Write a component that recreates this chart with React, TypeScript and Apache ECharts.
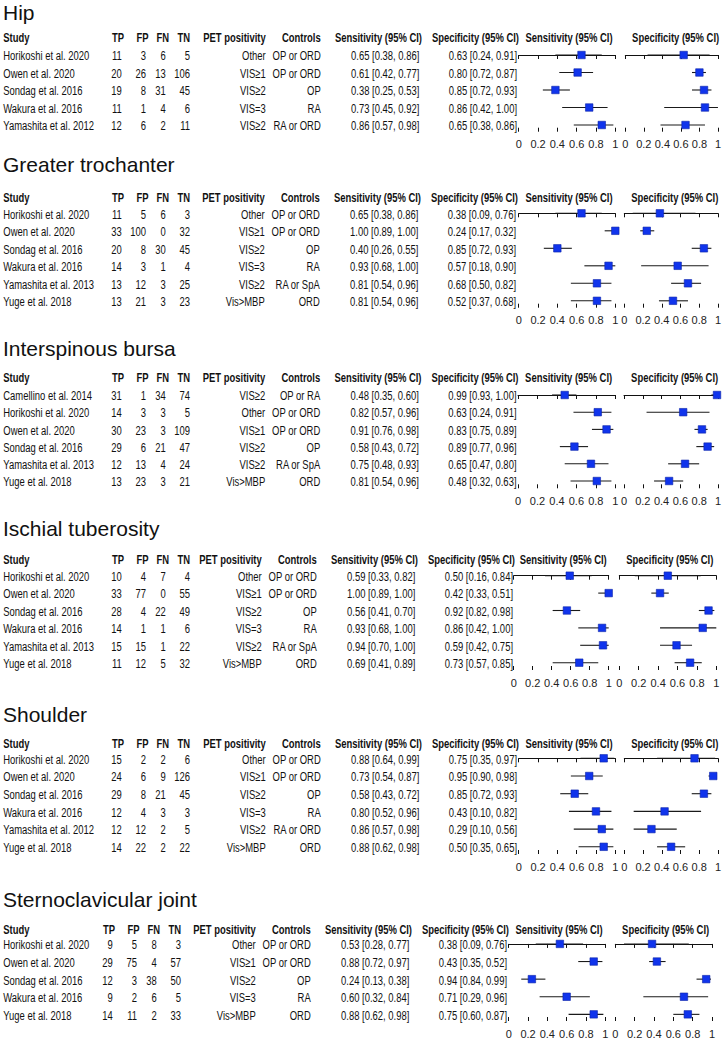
import React, { useEffect, useRef } from "react";
import * as echarts from "echarts";

// ---------------- DATA ----------------
const sectionTitles = ["Hip", "Greater trochanter", "Interspinous bursa", "Ischial tuberosity", "Shoulder", "Sternoclavicular joint"];
const headerLabels = ["Study", "TP", "FP", "FN", "TN", "PET positivity", "Controls", "Sensitivity (95% CI)", "Specificity (95% CI)"];
const plotHeaders = ["Sensitivity (95% CI)", "Specificity (95% CI)"];

// Hip
const hipStudies = ["Horikoshi et al. 2020", "Owen et al. 2020", "Sondag et al. 2016", "Wakura et al. 2016", "Yamashita et al. 2012"];
const hipCounts = [[11, 3, 6, 5], [20, 26, 13, 106], [19, 8, 31, 45], [11, 1, 4, 6], [12, 6, 2, 11]];
const hipPET = ["Other", "VIS≥1", "VIS≥2", "VIS=3", "VIS≥2"];
const hipControls = ["OP or ORD", "OP or ORD", "OP", "RA", "RA or ORD"];
const hipSens = [[0.65, 0.38, 0.86], [0.61, 0.42, 0.77], [0.38, 0.25, 0.53], [0.73, 0.45, 0.92], [0.86, 0.57, 0.98]];
const hipSpec = [[0.63, 0.24, 0.91], [0.80, 0.72, 0.87], [0.85, 0.72, 0.93], [0.86, 0.42, 1.00], [0.65, 0.38, 0.86]];

// Greater trochanter
const gtStudies = ["Horikoshi et al. 2020", "Owen et al. 2020", "Sondag et al. 2016", "Wakura et al. 2016", "Yamashita et al. 2013", "Yuge et al. 2018"];
const gtCounts = [[11, 5, 6, 3], [33, 100, 0, 32], [20, 8, 30, 45], [14, 3, 1, 4], [13, 12, 3, 25], [13, 21, 3, 23]];
const gtPET = ["Other", "VIS≥1", "VIS≥2", "VIS=3", "VIS≥2", "Vis>MBP"];
const gtControls = ["OP or ORD", "OP or ORD", "OP", "RA", "RA or SpA", "ORD"];
const gtSens = [[0.65, 0.38, 0.86], [1.00, 0.89, 1.00], [0.40, 0.26, 0.55], [0.93, 0.68, 1.00], [0.81, 0.54, 0.96], [0.81, 0.54, 0.96]];
const gtSpec = [[0.38, 0.09, 0.76], [0.24, 0.17, 0.32], [0.85, 0.72, 0.93], [0.57, 0.18, 0.90], [0.68, 0.50, 0.82], [0.52, 0.37, 0.68]];

// Interspinous bursa
const ibStudies = ["Camellino et al. 2014", "Horikoshi et al. 2020", "Owen et al. 2020", "Sondag et al. 2016", "Yamashita et al. 2013", "Yuge et al. 2018"];
const ibCounts = [[31, 1, 34, 74], [14, 3, 3, 5], [30, 23, 3, 109], [29, 6, 21, 47], [12, 13, 4, 24], [13, 23, 3, 21]];
const ibPET = ["VIS≥2", "Other", "VIS≥1", "VIS≥2", "VIS≥2", "Vis>MBP"];
const ibControls = ["OP or RA", "OP or ORD", "OP or ORD", "OP", "RA or SpA", "ORD"];
const ibSens = [[0.48, 0.35, 0.60], [0.82, 0.57, 0.96], [0.91, 0.76, 0.98], [0.58, 0.43, 0.72], [0.75, 0.48, 0.93], [0.81, 0.54, 0.96]];
const ibSpec = [[0.99, 0.93, 1.00], [0.63, 0.24, 0.91], [0.83, 0.75, 0.89], [0.89, 0.77, 0.96], [0.65, 0.47, 0.80], [0.48, 0.32, 0.63]];

// Ischial tuberosity
const itStudies = ["Horikoshi et al. 2020", "Owen et al. 2020", "Sondag et al. 2016", "Wakura et al. 2016", "Yamashita et al. 2013", "Yuge et al. 2018"];
const itCounts = [[10, 4, 7, 4], [33, 77, 0, 55], [28, 4, 22, 49], [14, 1, 1, 6], [15, 15, 1, 22], [11, 12, 5, 32]];
const itPET = ["Other", "VIS≥1", "VIS≥2", "VIS=3", "VIS≥2", "Vis>MBP"];
const itControls = ["OP or ORD", "OP or ORD", "OP", "RA", "RA or SpA", "ORD"];
const itSens = [[0.59, 0.33, 0.82], [1.00, 0.89, 1.00], [0.56, 0.41, 0.70], [0.93, 0.68, 1.00], [0.94, 0.70, 1.00], [0.69, 0.41, 0.89]];
const itSpec = [[0.50, 0.16, 0.84], [0.42, 0.33, 0.51], [0.92, 0.82, 0.98], [0.86, 0.42, 1.00], [0.59, 0.42, 0.75], [0.73, 0.57, 0.85]];

// Shoulder
const shStudies = ["Horikoshi et al. 2020", "Owen et al. 2020", "Sondag et al. 2016", "Wakura et al. 2016", "Yamashita et al. 2012", "Yuge et al. 2018"];
const shCounts = [[15, 2, 2, 6], [24, 6, 9, 126], [29, 8, 21, 45], [12, 4, 3, 3], [12, 12, 2, 5], [14, 22, 2, 22]];
const shPET = ["Other", "VIS≥1", "VIS≥2", "VIS=3", "VIS≥2", "Vis>MBP"];
const shControls = ["OP or ORD", "OP or ORD", "OP", "RA", "RA or ORD", "ORD"];
const shSens = [[0.88, 0.64, 0.99], [0.73, 0.54, 0.87], [0.58, 0.43, 0.72], [0.80, 0.52, 0.96], [0.86, 0.57, 0.98], [0.88, 0.62, 0.98]];
const shSpec = [[0.75, 0.35, 0.97], [0.95, 0.90, 0.98], [0.85, 0.72, 0.93], [0.43, 0.10, 0.82], [0.29, 0.10, 0.56], [0.50, 0.35, 0.65]];

// Sternoclavicular joint
const scStudies = ["Horikoshi et al. 2020", "Owen et al. 2020", "Sondag et al. 2016", "Wakura et al. 2016", "Yuge et al. 2018"];
const scCounts = [[9, 5, 8, 3], [29, 75, 4, 57], [12, 3, 38, 50], [9, 2, 6, 5], [14, 11, 2, 33]];
const scPET = ["Other", "VIS≥1", "VIS≥2", "VIS=3", "Vis>MBP"];
const scControls = ["OP or ORD", "OP or ORD", "OP", "RA", "ORD"];
const scSens = [[0.53, 0.28, 0.77], [0.88, 0.72, 0.97], [0.24, 0.13, 0.38], [0.60, 0.32, 0.84], [0.88, 0.62, 0.98]];
const scSpec = [[0.38, 0.09, 0.76], [0.43, 0.35, 0.52], [0.94, 0.84, 0.99], [0.71, 0.29, 0.96], [0.75, 0.60, 0.87]];

const sections = [
  { studies: hipStudies, counts: hipCounts, pet: hipPET, controls: hipControls, sens: hipSens, spec: hipSpec },
  { studies: gtStudies, counts: gtCounts, pet: gtPET, controls: gtControls, sens: gtSens, spec: gtSpec },
  { studies: ibStudies, counts: ibCounts, pet: ibPET, controls: ibControls, sens: ibSens, spec: ibSpec },
  { studies: itStudies, counts: itCounts, pet: itPET, controls: itControls, sens: itSens, spec: itSpec },
  { studies: shStudies, counts: shCounts, pet: shPET, controls: shControls, sens: shSens, spec: shSpec },
  { studies: scStudies, counts: scCounts, pet: scPET, controls: scControls, sens: scSens, spec: scSpec },
];

// ---------------- LAYOUT ----------------
const LAYOUT = [
  { title: 19.5, header: 37, row0: 55, step: 17.5, axis: 131.7, dxA: 0, dxB: 0, sens: [518.7, 615.3], spec: [625.3, 722] },
  { title: 172, header: 196.7, row0: 213.3, step: 17.5, axis: 307.7, dxA: 0, dxB: -1, sens: [518.7, 615.3], spec: [624.3, 721.3] },
  { title: 356, header: 376.7, row0: 395, step: 17.2, axis: 488.3, dxA: 0, dxB: -0.5, sens: [518, 615.3], spec: [624, 721.3] },
  { title: 536, header: 558.3, row0: 575.7, step: 17.4, axis: 670, dxA: 0, dxB: -4, sens: [513.7, 608.7], spec: [619.3, 716.3] },
  { title: 722, header: 742.3, row0: 758.3, step: 17.7, axis: 854, dxA: 0, dxB: 0, sens: [518.7, 615.3], spec: [624.3, 721.3] },
  { title: 906.7, header: 928.3, row0: 944, step: 17.75, axis: 1021.7, dxA: -9, dxB: -10, sens: [508.7, 605.3], spec: [615.3, 712] },
];
const COL = { study: 3.3, tp: 121.7, fp: 146, fn: 165.7, tn: 190, pet: 265.7, ctrl: 320.7, sens: 419.3, spec: 517 };
const HCOL = { tp: 124, fp: 148.5, fn: 169, tn: 190, pet: 265.7, ctrl: 320.7, sens: 422, spec: 519 };

const FONT = "'Liberation Sans', Arial, Helvetica, sans-serif";
const TXT = "#111";
const BLUE = "#1034ec";

function txt(s: string, x: number, y: number, align: string, bold = false, size = 13.5, sx = 0.7) {
  return {
    type: "text",
    x,
    y,
    scaleX: sx,
    silent: true,
    style: {
      text: s,
      fontSize: size,
      fontFamily: FONT,
      fontWeight: bold ? "bold" : "normal",
      fill: TXT,
      align,
      textAlign: align,
      verticalAlign: "middle",
      textVerticalAlign: "middle",
    },
  };
}

const fmt = (d: number[]) => `${d[0].toFixed(2)} [${d[1].toFixed(2)}, ${d[2].toFixed(2)}]`;

function buildOption() {
  const grid: any[] = [];
  const xAxis: any[] = [];
  const yAxis: any[] = [];
  const series: any[] = [];
  const graphic: any[] = [];

  sections.forEach((sec, si) => {
    const L = LAYOUT[si];
    // title (baseline at L.title)
    graphic.push({
      type: "text", x: 3, y: L.title - 7.4, silent: true,
      style: {
        text: sectionTitles[si], fontSize: 21, lineHeight: 15, fontFamily: FONT, fill: TXT,
        align: "left", textAlign: "left", verticalAlign: "middle", textVerticalAlign: "middle",
      },
    });
    // headers
    const h = L.header;
    graphic.push(txt(headerLabels[0], COL.study, h, "left", true));
    graphic.push(txt(headerLabels[1], HCOL.tp + L.dxA, h, "right", true));
    graphic.push(txt(headerLabels[2], HCOL.fp + L.dxA, h, "right", true));
    graphic.push(txt(headerLabels[3], HCOL.fn + L.dxA, h, "right", true));
    graphic.push(txt(headerLabels[4], HCOL.tn + L.dxA, h, "right", true));
    graphic.push(txt(headerLabels[5], HCOL.pet + L.dxB, h, "right", true));
    graphic.push(txt(headerLabels[6], HCOL.ctrl + L.dxB, h, "right", true));
    graphic.push(txt(headerLabels[7], HCOL.sens + L.dxB, h, "right", true));
    graphic.push(txt(headerLabels[8], HCOL.spec + L.dxB, h, "right", true));
    graphic.push(txt(plotHeaders[0], (L.sens[0] + L.sens[1]) / 2 + 2, h, "center", true));
    graphic.push(txt(plotHeaders[1], (L.spec[0] + L.spec[1]) / 2 + 2, h, "center", true));
    // rows
    sec.studies.forEach((st, i) => {
      const y = L.row0 + i * L.step;
      const c = sec.counts[i];
      graphic.push(txt(st, COL.study, y, "left"));
      graphic.push(txt(String(c[0]), COL.tp + L.dxA, y, "right"));
      graphic.push(txt(String(c[1]), COL.fp + L.dxA, y, "right"));
      graphic.push(txt(String(c[2]), COL.fn + L.dxA, y, "right"));
      graphic.push(txt(String(c[3]), COL.tn + L.dxA, y, "right"));
      graphic.push(txt(sec.pet[i], COL.pet + L.dxB, y, "right"));
      graphic.push(txt(sec.controls[i], COL.ctrl + L.dxB, y, "right"));
      graphic.push(txt(fmt(sec.sens[i]), COL.sens + L.dxB, y, "right"));
      graphic.push(txt(fmt(sec.spec[i]), COL.spec + L.dxB, y, "right"));
    });

    const top = L.row0 - L.step / 2;
    const height = L.axis - top;
    const range = height / L.step;
    [L.sens, L.spec].forEach((xr, k) => {
      const g = grid.length;
      grid.push({ left: xr[0], width: xr[1] - xr[0], top, height, containLabel: false });
      const base = {
        gridIndex: g, type: "value", min: 0, max: 1, interval: 0.2, position: "bottom",
        splitLine: { show: false },
      };
      xAxis.push({
        ...base,
        axisLine: { show: true, lineStyle: { color: "#111", width: 1 } },
        axisTick: { show: true, inside: false, length: 4, lineStyle: { color: "#111", width: 1 } },
        axisLabel: { show: true, margin: 7, fontSize: 11, fontFamily: FONT, color: "#222", hideOverlap: false },
      });
      xAxis.push({
        ...base,
        axisLine: { show: false },
        axisTick: { show: true, inside: true, length: 4, lineStyle: { color: "#111", width: 1 } },
        axisLabel: { show: false },
      });
      yAxis.push({ gridIndex: g, type: "value", min: -0.5, max: -0.5 + range, inverse: true, show: false, splitLine: { show: false } });
      const vals = k === 0 ? sec.sens : sec.spec;
      series.push({
        type: "custom",
        xAxisIndex: 2 * g,
        yAxisIndex: g,
        silent: true,
        clip: false,
        encode: { x: [0, 2, 3], y: 1 },
        data: vals.map((d, i) => [d[0], i, d[1], d[2]]),
        renderItem: (params: any, api: any) => {
          const yv = api.value(1);
          const c = api.coord([api.value(0), yv]);
          const l = api.coord([api.value(2), yv]);
          const r = api.coord([api.value(3), yv]);
          const s = 7.5;
          return {
            type: "group",
            children: [
              { type: "line", shape: { x1: l[0], y1: l[1], x2: r[0], y2: r[1] }, style: { stroke: "#1a1a1a", lineWidth: 1.1 } },
              { type: "rect", shape: { x: c[0] - s / 2, y: c[1] - s / 2, width: s, height: s }, style: { fill: BLUE, stroke: "#0b23a8", lineWidth: 0.6 } },
            ],
          };
        },
      });
    });
  });

  return { animation: false, backgroundColor: "#fff", grid, xAxis, yAxis, series, graphic };
}

export default function App() {
  const ref = useRef<HTMLDivElement>(null);
  useEffect(() => {
    if (!ref.current) return;
    const chart = echarts.init(ref.current, undefined, { renderer: "svg" });
    chart.setOption(buildOption() as any);
    return () => chart.dispose();
  }, []);
  return <div ref={ref} style={{ position: "absolute", left: 0, top: 0, width: 724, height: 1039, background: "#fff" }} />;
}
